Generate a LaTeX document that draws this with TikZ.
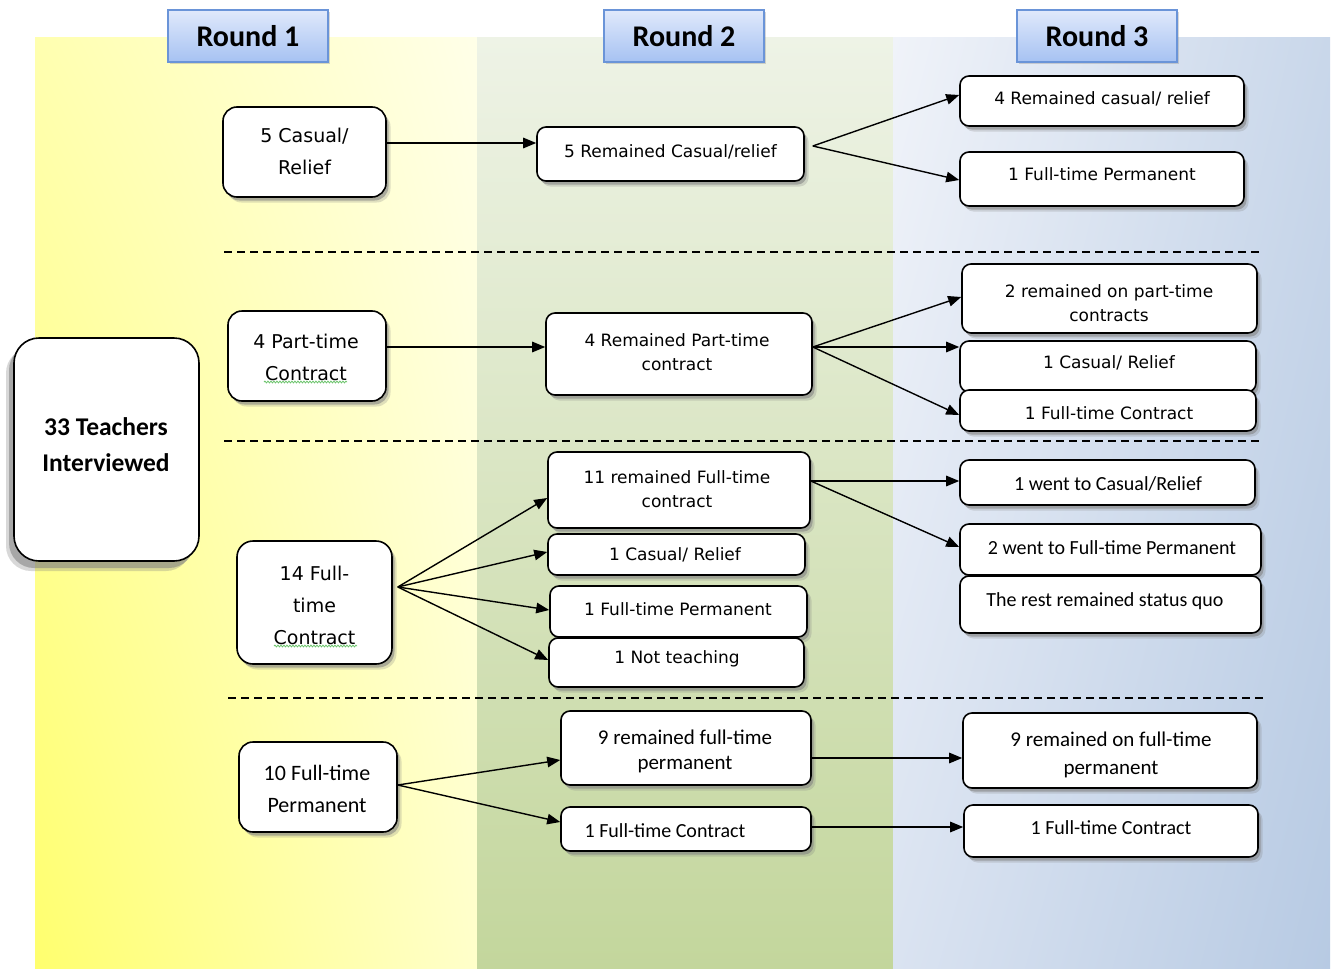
\documentclass[tikz,border=0pt]{standalone}
\usepackage{fontspec}
\setmainfont{DejaVu Sans}
\newfontfamily\carl{Carlito}
\usetikzlibrary{arrows.meta,shadows,shadings,decorations.pathmorphing,calc}
\definecolor{yLL}{HTML}{FFFF6E}
\definecolor{yUL}{HTML}{FFFFB0}
\definecolor{yLR}{HTML}{FFFFCA}
\definecolor{yUR}{HTML}{FFFFE8}
\definecolor{gU}{HTML}{EEF3E6}
\definecolor{gL}{HTML}{C3D69C}
\definecolor{bUL}{HTML}{F0F3F9}
\definecolor{bUR}{HTML}{C9D7EA}
\definecolor{bLL}{HTML}{DAE3F1}
\definecolor{bLR}{HTML}{B7CAE3}
\definecolor{hdTop}{HTML}{E0E9FB}
\definecolor{hdBot}{HTML}{A6C2F2}
\definecolor{hdLine}{HTML}{6A94D8}
\definecolor{squigc}{HTML}{6CC46C}
\begin{document}
\begin{tikzpicture}[x=1pt,y=-1pt,
  boxbase/.style={draw=black, line width=1.6pt, fill=white, inner sep=0pt, rounded corners=9pt},
  sbox/.style={boxbase,
    drop shadow={shadow xshift=4.5pt, shadow yshift=-5.5pt, opacity=0.25},
    drop shadow={shadow xshift=2.5pt, shadow yshift=-3.5pt, opacity=0.55}},
  hdr/.style={draw=hdLine, line width=1.2pt, top color=hdTop, bottom color=hdBot,
    minimum width=160pt, minimum height=52pt, inner sep=0pt,
    font=\carl\bfseries\fontsize{30}{36}\selectfont,
    drop shadow={shadow xshift=2pt, shadow yshift=-2pt, opacity=0.3}},
  tA/.style={font=\fontsize{17}{24}\selectfont, align=center, inner sep=0pt},
  tR/.style={font=\fontsize{19}{32}\selectfont, align=center, inner sep=0pt},
  tC/.style={font=\carl\fontsize{20}{26}\selectfont, align=center, inner sep=0pt},
  arr/.style={line width=1.4pt, -{Triangle[length=13pt,width=10.5pt]}},
  sep/.style={line width=1.4pt, dash pattern=on 8pt off 5pt},
  squig/.style={draw=squigc, line width=0.8pt, decorate, decoration={snake, amplitude=0.9pt, segment length=3pt}}
]
\useasboundingbox (0,0) rectangle (1336,969);
\fill[white] (0,0) rectangle (1336,969);

% background panels
\shade[shading=bilinear interpolation, lower left=yLL, upper left=yUL, lower right=yLR, upper right=yUR] (35,37) rectangle (477,969);
\shade[top color=gU, bottom color=gL] (477,37) rectangle (893,969);
\shade[shading=bilinear interpolation, lower left=bLL, upper left=bUL, lower right=bLR, upper right=bUR] (893,37) rectangle (1330,969);

% headers
\node[hdr] (h1) at (248,36) {\raisebox{-2pt}{Round 1}};
\node[hdr] (h2) at (684,36) {\raisebox{-2pt}{Round 2}};
\node[hdr] (h3) at (1097,36) {\raisebox{-2pt}{Round 3}};

% separators
\draw[sep] (224,252) -- (1262,252);
\draw[sep] (224,441) -- (1262,441);
\draw[sep] (228,698) -- (1265,698);

% big box
\node[boxbase, rounded corners=25pt, minimum width=185pt, minimum height=223pt,
  drop shadow={shadow xshift=-8pt, shadow yshift=-10pt, opacity=0.3},
  drop shadow={shadow xshift=-5pt, shadow yshift=-7pt, opacity=0.55}] (big) at (106.5,449.5) {};
\node[font=\carl\bfseries\fontsize{25.5}{36}\selectfont, align=center, inner sep=0pt] (bigt) at (106,445) {33 Teachers\\Interviewed};

% group 1: casual / relief
\node[sbox, rounded corners=14pt, minimum width=163pt, minimum height=90pt] (c1) at (304.5,152) {};
\node[tR] (c1t) at (304.5,151) {5 Casual/\\Relief};
\node[sbox, minimum width=267pt, minimum height=54pt] (c2) at (670.5,154) {};
\node[tA] (c2t) at (670.5,152) {5 Remained Casual/relief};
\node[sbox, minimum width=284pt, minimum height=50pt] (c3a) at (1102,101) {};
\node[tA] (c3at) at (1102,99) {4 Remained casual/ relief};
\node[sbox, minimum width=284pt, minimum height=54pt] (c3b) at (1102,179) {};
\node[tA] (c3bt) at (1102,174) {1 Full-time Permanent};

% group 2: part-time
\node[sbox, rounded corners=14pt, minimum width=158pt, minimum height=90pt] (p1) at (307,356) {};
\node[tR] (p1t) at (306,357) {4 Part-time\\Contract};
\node[sbox, minimum width=266pt, minimum height=82pt] (p2) at (679,354) {};
\node[tA] (p2t) at (677,352) {4 Remained Part-time\\contract};
\node[sbox, minimum width=295pt, minimum height=69pt] (p3a) at (1109.5,298.5) {};
\node[tA] (p3at) at (1109,303) {2 remained on part-time\\contracts};
\node[sbox, minimum width=296pt, minimum height=51pt] (p3b) at (1108,366.5) {};
\node[tA] (p3bt) at (1109,363) {1 Casual/ Relief};
\node[sbox, minimum width=296pt, minimum height=41pt] (p3c) at (1108,410.5) {};
\node[tA] (p3ct) at (1109,413) {1 Full-time Contract};

% group 3: full-time contract
\node[sbox, rounded corners=16pt, minimum width=155pt, minimum height=123pt] (f1) at (314.5,602.5) {};
\node[tR] (f1t) at (314.5,605) {14 Full-\\time\\Contract};
\node[sbox, minimum width=262pt, minimum height=76pt] (f2a) at (679,490) {};
\node[tA] (f2at) at (677,489) {11 remained Full-time\\contract};
\node[sbox, minimum width=257pt, minimum height=41pt] (f2b) at (676.5,554.5) {};
\node[tA] (f2bt) at (675,555) {1 Casual/ Relief};
\node[sbox, minimum width=257pt, minimum height=51pt] (f2c) at (678.5,611.5) {};
\node[tA] (f2ct) at (678,609) {1 Full-time Permanent};
\node[sbox, minimum width=255pt, minimum height=49pt] (f2d) at (676.5,662.5) {};
\node[tA] (f2dt) at (677,659) {1 Not teaching};
\node[sbox, minimum width=295pt, minimum height=45pt] (f3a) at (1107.5,482.5) {};
\node[tC] (f3at) at (1108,484) {1 went to Casual/Relief};
\node[sbox, minimum width=301pt, minimum height=51pt] (f3b) at (1110.5,549.5) {};
\node[tC] (f3bt) at (1112,548) {2 went to Full-time Permanent};
\node[sbox, minimum width=301pt, minimum height=57pt] (f3c) at (1110.5,604.5) {};
\node[tC] (f3ct) at (1105,601) {The rest remained status quo};

% group 4: full-time permanent
\node[sbox, rounded corners=14pt, minimum width=158pt, minimum height=90pt] (q1) at (318,787) {};
\node[tC, font=\carl\fontsize{22}{32}\selectfont] (q1t) at (317,789) {10 Full-time\\Permanent};
\node[sbox, minimum width=250pt, minimum height=74pt] (q2a) at (686,748) {};
\node[tC, font=\carl\fontsize{21}{25}\selectfont] (q2at) at (685,751) {9 remained full-time\\permanent};
\node[sbox, minimum width=250pt, minimum height=44pt] (q2b) at (686,829) {};
\node[tC] (q2bt) at (665,831) {1 Full-time Contract};
\node[sbox, minimum width=294pt, minimum height=75pt] (q3a) at (1110,750.5) {};
\node[tC, font=\carl\fontsize{21}{28}\selectfont] (q3at) at (1111,755) {9 remained on full-time\\permanent};
\node[sbox, minimum width=294pt, minimum height=52pt] (q3b) at (1111,831) {};
\node[tC] (q3bt) at (1111,828) {1 Full-time Contract};

% spell-check squiggles
\draw[squig] (264,382) -- (347,382);
\draw[squig] (274,646) -- (357,646);

% connectors
\draw[arr] (c1.east |- 0,143) -- (c2.west |- 0,143);
\draw[arr] ($(c2.east |- 0,146)+(8,0)$) -- (c3a.west |- 0,95);
\draw[arr] ($(c2.east |- 0,146)+(8,0)$) -- (c3b.west |- 0,180);

\draw[arr] (p1.east |- 0,347) -- (p2.west |- 0,347);
\draw[arr] (p2.east |- 0,347) -- (p3a.west |- 0,297);
\draw[arr] (p2.east |- 0,347) -- (p3b.west |- 0,347);
\draw[arr] (p2.east |- 0,347) -- (p3c.west |- 0,415);

\draw[arr] ($(f1.east |- 0,587)+(5,0)$) -- (f2a.west |- 0,498);
\draw[arr] ($(f1.east |- 0,587)+(5,0)$) -- (f2b.west |- 0,552);
\draw[arr] ($(f1.east |- 0,587)+(5,0)$) -- (f2c.west |- 0,610);
\draw[arr] ($(f1.east |- 0,587)+(5,0)$) -- (f2d.west |- 0,660);

\draw[arr] (f2a.east |- 0,481) -- (f3a.west |- 0,481);
\draw[arr] (f2a.east |- 0,481) -- (f3b.west |- 0,547);

\draw[arr] (q1.east |- 0,785) -- (q2a.west |- 0,760);
\draw[arr] (q1.east |- 0,785) -- (q2b.west |- 0,822);
\draw[arr] (q2a.east |- 0,758) -- (q3a.west |- 0,758);
\draw[arr] (q2b.east |- 0,827) -- (q3b.west |- 0,827);
\end{tikzpicture}
\end{document}
